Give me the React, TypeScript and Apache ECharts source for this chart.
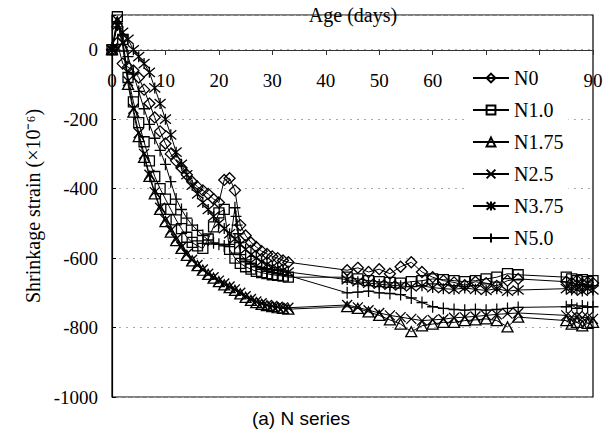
import React, { useEffect, useRef } from 'react';
import * as echarts from 'echarts';

// ---- Data ----
const earlyDays = [0, 1, 2, 3, 4, 5, 6, 7, 8, 9, 10, 11, 12, 13, 14, 15, 16, 17, 18, 19, 20, 21, 22, 23, 24, 25, 26, 27, 28, 29, 30, 31, 32, 33];
const midDays = [44, 46, 48, 50, 52, 54, 56, 58, 60, 62, 64, 66, 68, 70, 72, 74, 76];
const endDays = [85, 86, 87, 88, 89, 90];

const n0Early = [0, 20, -40, -50, -60, -80, -115, -155, -195, -235, -270, -300, -320, -340, -360, -380, -395, -405, -415, -430, -440, -375, -370, -405, -505, -535, -555, -568, -580, -588, -595, -600, -607, -612];
const n10Early = [0, 95, 30, -80, -150, -210, -265, -320, -365, -400, -430, -460, -490, -515, -540, -555, -565, -572, -545, -510, -470, -460, -575, -600, -615, -625, -632, -638, -642, -645, -648, -650, -652, -655];
const n175Early = [0, 80, 10, -100, -180, -250, -310, -365, -415, -460, -495, -525, -550, -572, -592, -608, -622, -635, -647, -658, -668, -677, -685, -693, -703, -713, -722, -728, -733, -737, -740, -743, -745, -747];
const n25Early = [0, 85, 20, -90, -170, -240, -300, -360, -410, -455, -490, -520, -545, -568, -588, -605, -620, -633, -645, -655, -665, -673, -682, -690, -700, -710, -718, -725, -730, -735, -738, -740, -742, -743];
const n375Early = [0, 70, 50, 30, 0, -20, -40, -65, -110, -155, -200, -245, -295, -330, -360, -390, -415, -440, -460, -480, -500, -515, -530, -545, -560, -575, -590, -600, -610, -618, -625, -630, -635, -640];
const n50Early = [0, 75, 40, -20, -70, -120, -170, -215, -255, -290, -330, -380, -430, -460, -485, -505, -520, -535, -548, -556, -560, -565, -567, -455, -590, -605, -615, -625, -632, -638, -642, -645, -648, -650];
const n50SpikeDays = [23.2, 23.4, 23.6, 23.8];
const n50SpikeVals = [-480, -505, -530, -555];

const n0Mid = [-635, -628, -640, -632, -645, -625, -612, -640, -655, -665, -670, -678, -668, -672, -680, -665, -660];
const n10Mid = [-655, -660, -665, -668, -670, -672, -668, -665, -660, -662, -665, -668, -665, -660, -655, -645, -648];
const n175Mid = [-740, -745, -755, -765, -778, -790, -812, -795, -790, -785, -785, -780, -778, -775, -780, -798, -770];
const n25Mid = [-735, -742, -750, -758, -765, -770, -775, -780, -778, -776, -772, -770, -768, -765, -762, -760, -758];
const n375Mid = [-662, -668, -672, -675, -678, -680, -683, -680, -685, -688, -690, -686, -690, -693, -688, -695, -692];
const n50Mid = [-700, -698, -695, -700, -702, -705, -715, -728, -740, -745, -748, -750, -748, -750, -748, -745, -742];

const n0End = [-668, -672, -665, -675, -670, -672];
const n10End = [-655, -660, -665, -662, -668, -665];
const n175End = [-780, -790, -785, -795, -788, -785];
const n25End = [-765, -770, -768, -772, -770, -775];
const n375End = [-688, -692, -690, -695, -688, -692];
const n50End = [-740, -735, -745, -738, -742, -740];

const seriesNames = ['N0', 'N1.0', 'N1.75', 'N2.5', 'N3.75', 'N5.0'];
const yTicks = [0, -200, -400, -600, -800, -1000];
const xTickLabels = [0, 10, 20, 30, 40, 50, 60, 90]; // 70 and 80 sit under the legend

// ---- helpers ----
const zip = (xs: number[], ys: number[]) => xs.map((x, i) => [x, ys[i]]);
const build = (early: number[], mid: number[], end: number[], extraX: number[] = [], extraY: number[] = []) =>
  [...zip(earlyDays, early), ...zip(extraX, extraY), ...zip(midDays, mid), ...zip(endDays, end)].sort((a, b) => a[0] - b[0]);

const SERIF = 'Liberation Serif';

const symX = 'path://M0,0L10,10M10,0L0,10';
const symAst = 'path://M0,0L10,10M10,0L0,10M5,-1L5,11';
const symPlus = 'path://M5,0L5,12M0,6L10,6';

const seriesData = [
  build(n0Early, n0Mid, n0End),
  build(n10Early, n10Mid, n10End),
  build(n175Early, n175Mid, n175End),
  build(n25Early, n25Mid, n25End),
  build(n375Early, n375Mid, n375End),
  build(n50Early, n50Mid, n50End, n50SpikeDays, n50SpikeVals),
];
const symbols = ['diamond', 'rect', 'triangle', symX, symAst, symPlus];
const symbolSizes = [[11, 11], [10, 10], [11, 10], [10, 10], [11, 11], [11, 12]];

export default function App() {
  const ref = useRef<HTMLDivElement>(null);
  useEffect(() => {
    if (!ref.current) return;
    const chart = echarts.init(ref.current, null, { renderer: 'svg' });
    chart.setOption({
      animation: false,
      backgroundColor: '#fff',
      grid: { left: 112, top: 15, right: 19, bottom: 36, show: true, borderColor: '#000', borderWidth: 1.2, backgroundColor: 'transparent' },
      xAxis: {
        type: 'value', min: 0, max: 90, interval: 10,
        position: 'top', offset: -35,
        axisLine: { show: true, onZero: false, lineStyle: { color: '#333', width: 1 } },
        axisTick: { show: true, inside: true, length: 5, lineStyle: { color: '#333' } },
        axisLabel: {
          inside: true, margin: 21, fontSize: 19, fontFamily: SERIF, color: '#000',
          formatter: (v: number) => (xTickLabels.indexOf(v) >= 0 ? String(v) : ''),
        },
        splitLine: { show: false },
      },
      yAxis: {
        type: 'value', min: -1000, max: 100, interval: 200,
        axisLine: { show: true, onZero: false, lineStyle: { color: '#000', width: 1.2 } },
        axisTick: { show: true, inside: true, length: 4, lineStyle: { color: '#000' } },
        axisLabel: {
          margin: 14, fontSize: 19, fontFamily: SERIF, color: '#000',
          formatter: (v: number) => (yTicks.indexOf(v) >= 0 ? String(v) : ''),
        },
        splitLine: { show: true, lineStyle: { color: '#aaa', type: [2, 5], width: 1 } },
        name: 'Shrinkage strain (×10⁻⁶)',
        nameLocation: 'middle', nameGap: 50, nameRotate: 90,
        nameTextStyle: { fontSize: 20, fontFamily: SERIF, color: '#000' },
      },
      legend: {
        orient: 'vertical', left: 467, top: 64, itemWidth: 36, itemHeight: 11, itemGap: 12,
        padding: [4, 5],
        backgroundColor: '#fff',
        textStyle: { fontSize: 20, fontFamily: SERIF, color: '#000' },
        data: seriesNames,
      },
      graphic: [
        { type: 'text', x: 353, y: 15, z: 10, style: { text: 'Age (days)', align: 'center', verticalAlign: 'middle', fontSize: 20, fontFamily: SERIF, fill: '#000' } },
        { type: 'text', x: 301, y: 418, style: { text: '(a) N series', align: 'center', verticalAlign: 'middle', fontSize: 19, fontFamily: 'Liberation Sans', fill: '#000' } },
      ],
      series: seriesNames.map((name, i) => ({
        name, type: 'line', data: seriesData[i],
        symbol: symbols[i], symbolSize: symbolSizes[i], showSymbol: true,
        lineStyle: { color: '#000', width: 1 },
        itemStyle: { color: 'rgba(255,255,255,0)', borderColor: '#000', borderWidth: 1.3 },
        emphasis: { disabled: true },
        clip: true,
      })),
    });
    return () => chart.dispose();
  }, []);
  return <div ref={ref} style={{ position: 'fixed', left: 0, top: 0, width: 612, height: 433, background: '#fff' }} />;
}
